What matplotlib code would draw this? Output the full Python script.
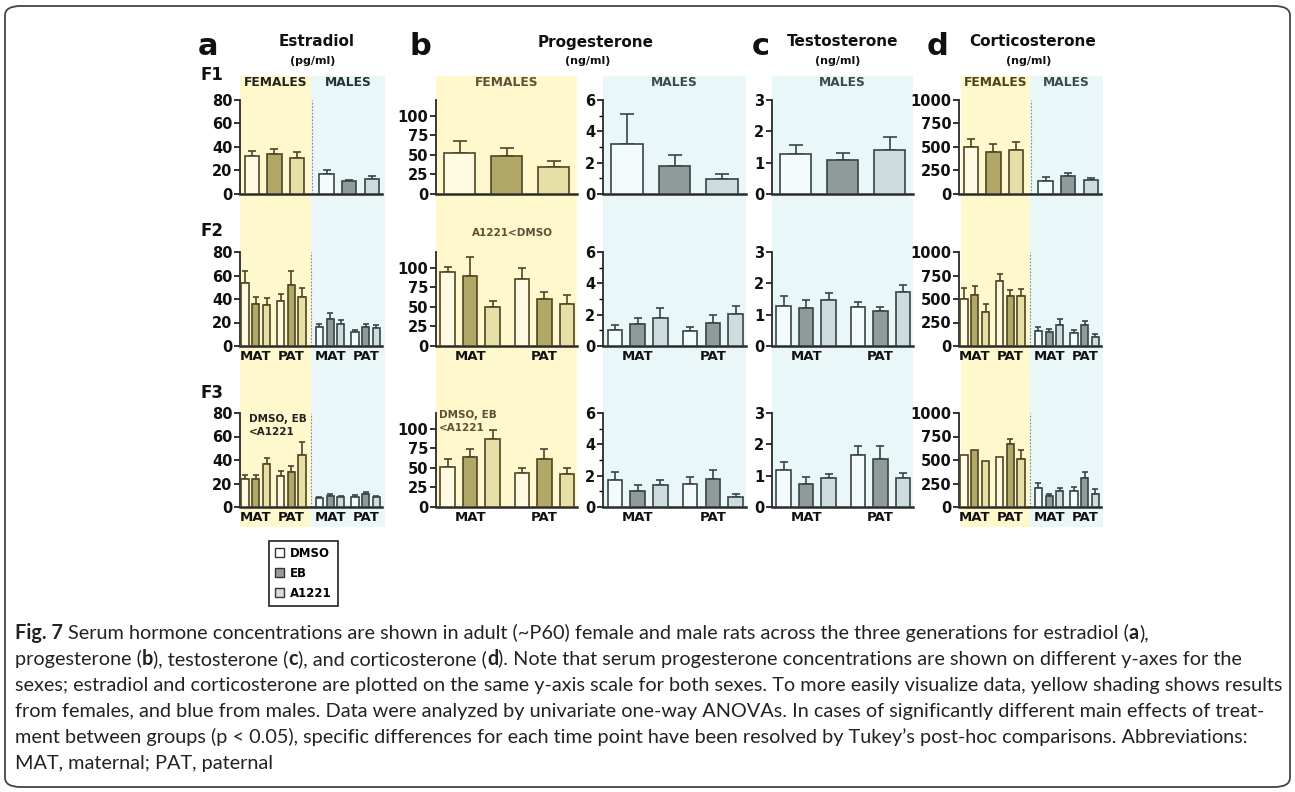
import matplotlib
matplotlib.use('Agg')
import matplotlib.pyplot as plt
from matplotlib.patches import Rectangle, FancyBboxPatch, Patch
import numpy as np

plt.rcParams['font.family'] = 'DejaVu Sans'
plt.rcParams['font.weight'] = 'bold'

# ---------------- data (mean, sem) ----------------
treatments = ['DMSO', 'EB', 'A1221']
groups = ['MAT', 'PAT']

# estradiol (pg/ml); F1: fem D,E,A + male D,E,A ; F2/F3: fem MAT, fem PAT, male MAT, male PAT
e2_f1_mean = [32, 34, 31, 17, 11, 13]
e2_f1_sem = [5, 4.3, 4.8, 3.7, 1.2, 2]
e2_f2_mean = [54, 36, 35, 38, 51.5, 41.5, 16, 23.4, 18.3, 12, 16, 15.4]
e2_f2_sem = [10, 5.4, 6, 6, 12.5, 7.5, 2.6, 4.6, 4, 1.4, 2.3, 2.3]
e2_f3_mean = [23.7, 24, 36.3, 26.6, 29.7, 44.3, 7.7, 9.7, 8.3, 8.6, 10.9, 8.3]
e2_f3_sem = [3.3, 3, 5.4, 3.7, 4.9, 10.7, 1.2, 1.7, 1.1, 1.7, 2.1, 0.8]

# progesterone (ng/ml), females
p4f_f1_mean = [52.6, 49, 35]
p4f_f1_sem = [15.4, 9.8, 7.5]
p4f_f2_mean = [94.2, 90, 49.3, 86, 59.6, 54]
p4f_f2_sem = [6.8, 24, 8.7, 14, 9.4, 11]
p4f_f3_mean = [51.5, 63.9, 87.2, 44, 60.8, 42.7]
p4f_f3_sem = [10.2, 9.7, 11, 5.8, 13.2, 6.6]

# progesterone (ng/ml), males
p4m_f1_mean = [3.19, 1.81, 0.98]
p4m_f1_sem = [1.89, 0.69, 0.28]
p4m_f2_mean = [1.04, 1.43, 1.77, 0.96, 1.45, 2.02]
p4m_f2_sem = [0.28, 0.36, 0.63, 0.23, 0.51, 0.55]
p4m_f3_mean = [1.74, 1.04, 1.38, 1.49, 1.77, 0.66]
p4m_f3_sem = [0.47, 0.34, 0.36, 0.45, 0.57, 0.15]

# testosterone (ng/ml), males
t_f1_mean = [1.27, 1.07, 1.41]
t_f1_sem = [0.29, 0.24, 0.42]
t_f2_mean = [1.29, 1.21, 1.47, 1.25, 1.13, 1.71]
t_f2_sem = [0.31, 0.25, 0.23, 0.14, 0.12, 0.25]
t_f3_mean = [1.19, 0.75, 0.92, 1.65, 1.54, 0.92]
t_f3_sem = [0.26, 0.21, 0.14, 0.31, 0.42, 0.15]

# corticosterone (ng/ml)
c_f1_mean = [502, 445, 466, 139, 196, 149]
c_f1_sem = [85, 85, 86, 39, 25, 25]
c_f2_mean = [504, 539, 358, 688, 532, 532, 163, 152, 227, 135, 223, 92]
c_f2_sem = [113, 99, 89, 78, 64, 74, 43, 29, 64, 35, 47, 32]
c_f3_mean = [557, 607, 486, 536, 671, 507, 204, 122, 171, 175, 311, 143]
c_f3_sem = [np.nan, np.nan, np.nan, np.nan, 50, 97, 53, 21, 29, 36, 64, 46]

# ---------------- style ----------------
fill = {'F': ['#fffbe3', '#b1a767', '#e6dfa6'],
        'M': ['#f3fbfc', '#8e9b99', '#cddcdf']}
edge = {'F': '#4d4526', 'M': '#384444'}
yellow = '#fff8cc'
blue = '#eaf7f9'
CF = 'DejaVu Sans'  # chart font

W, H = 1295, 792
fig = plt.figure(figsize=(W / 100, H / 100), dpi=100)

row_top = [100, 252, 413]
row_bot = [194, 346, 507]

pos3 = [0, 1, 2]
pos6 = [0, 1, 2, 3.3, 4.3, 5.3]
pos12 = [0, 1, 2, 3.33, 4.33, 5.33, 6.95, 7.95, 8.95, 10.28, 11.28, 12.28]
lims = {3: (-0.5, 2.5), 6: (-0.52, 5.75), 12: (-0.48, 12.8)}
widths = {3: 0.66, 6: 0.64, 12: 0.68}
caps = {3: 5, 6: 3, 12: 2}


def fx(x):
    return x / W


def fy(y):
    return 1 - y / H


def make_ax(x0, x1, r):
    ax = fig.add_axes([fx(x0), fy(row_bot[r]), (x1 - x0) / W, (row_bot[r] - row_top[r]) / H])
    ax.set_facecolor('none')
    for s in ['top', 'right']:
        ax.spines[s].set_visible(False)
    ax.spines['left'].set_color('#2a2a2a')
    ax.spines['left'].set_linewidth(1.3)
    ax.spines['bottom'].set_color('#2a2a2a')
    ax.spines['bottom'].set_linewidth(1.8)
    ax.tick_params(axis='x', length=0, labelsize=9.5, pad=3, colors='#111', labelfontfamily=CF)
    ax.tick_params(axis='y', length=4, width=1.2, labelsize=10.5, pad=1.5, colors='#111',
                   labelfontfamily=CF)
    ax.tick_params(axis='y', which='minor', length=3, width=1.0)
    return ax


def draw(ax, pos, means, sems, sexes, yticks, ylim, xlabels=None):
    n = len(pos)
    w = widths[n]
    for i, (p, m, s) in enumerate(zip(pos, means, sems)):
        sx = sexes[i]
        ax.bar(p, m, w, color=fill[sx][i % 3], edgecolor=edge[sx], linewidth=1.2, zorder=3)
        if not np.isnan(s):
            ax.errorbar(p, m, yerr=[[0], [s]], fmt='none', ecolor=edge[sx], elinewidth=1.2,
                        capsize=caps[n], capthick=1.2, zorder=2)
    ax.set_xlim(*lims[n])
    ax.set_ylim(*ylim)
    ax.set_yticks(yticks)
    if xlabels:
        ax.set_xticks([np.mean(pos[k:k + 3]) for k in range(0, n, 3)])
        ax.set_xticklabels(xlabels)
    else:
        ax.set_xticks([])


def divider(ax, pos, ylim):
    xd = (pos[2] + pos[3]) / 2 if len(pos) == 6 else (pos[5] + pos[6]) / 2
    ax.plot([xd, xd], [0, ylim[1]], ls=(0, (1.5, 1.5)), color='#888888', lw=0.8, zorder=1)


# ---------------- shading ----------------
shades = [(240, 311, 76, 527, yellow), (311, 385, 76, 527, blue),
          (436, 577, 76, 508, yellow), (603, 746, 76, 508, blue),
          (772, 913, 76, 508, blue),
          (961, 1030, 76, 527, yellow), (1030, 1103, 76, 527, blue)]
for x0, x1, y0, y1, c in shades:
    fig.add_artist(Rectangle((fx(x0), fy(y1)), (x1 - x0) / W, (y1 - y0) / H,
                             transform=fig.transFigure, facecolor=c, edgecolor='none', zorder=0))

sex6 = ['F'] * 3 + ['M'] * 3
sex12 = ['F'] * 6 + ['M'] * 6
lab12 = ['MAT', 'PAT', 'MAT', 'PAT']

# a: estradiol
e2_ticks, e2_lim = [0, 20, 40, 60, 80], (0, 80)
for r, (m, s) in enumerate([(e2_f1_mean, e2_f1_sem), (e2_f2_mean, e2_f2_sem), (e2_f3_mean, e2_f3_sem)]):
    ax = make_ax(240, 382, r)
    if r == 0:
        draw(ax, pos6, m, s, sex6, e2_ticks, e2_lim)
        divider(ax, pos6, e2_lim)
    else:
        draw(ax, pos12, m, s, sex12, e2_ticks, e2_lim, lab12)
        divider(ax, pos12, e2_lim)

# b: progesterone females / males
for r, (m, s) in enumerate([(p4f_f1_mean, p4f_f1_sem), (p4f_f2_mean, p4f_f2_sem), (p4f_f3_mean, p4f_f3_sem)]):
    ax = make_ax(436, 577, r)
    if r == 0:
        draw(ax, pos3, m, s, ['F'] * 3, [0, 25, 50, 75, 100], (0, 120))
    else:
        draw(ax, pos6, m, s, ['F'] * 6, [0, 25, 50, 75, 100], (0, 120), groups)

for r, (m, s) in enumerate([(p4m_f1_mean, p4m_f1_sem), (p4m_f2_mean, p4m_f2_sem), (p4m_f3_mean, p4m_f3_sem)]):
    ax = make_ax(603, 746, r)
    if r == 0:
        draw(ax, pos3, m, s, ['M'] * 3, [0, 2, 4, 6], (0, 6))
    else:
        draw(ax, pos6, m, s, ['M'] * 6, [0, 2, 4, 6], (0, 6), groups)
    ax.set_yticks([1, 3, 5], minor=True)

# c: testosterone
for r, (m, s) in enumerate([(t_f1_mean, t_f1_sem), (t_f2_mean, t_f2_sem), (t_f3_mean, t_f3_sem)]):
    ax = make_ax(772, 913, r)
    if r == 0:
        draw(ax, pos3, m, s, ['M'] * 3, [0, 1, 2, 3], (0, 3))
    else:
        draw(ax, pos6, m, s, ['M'] * 6, [0, 1, 2, 3], (0, 3), groups)

# d: corticosterone
c_ticks, c_lim = [0, 250, 500, 750, 1000], (0, 1000)
for r, (m, s) in enumerate([(c_f1_mean, c_f1_sem), (c_f2_mean, c_f2_sem), (c_f3_mean, c_f3_sem)]):
    ax = make_ax(959, 1101, r)
    if r == 0:
        draw(ax, pos6, m, s, sex6, c_ticks, c_lim)
        divider(ax, pos6, c_lim)
    else:
        draw(ax, pos12, m, s, sex12, c_ticks, c_lim, lab12)
        divider(ax, pos12, c_lim)

# ---------------- headings ----------------
for x, l in [(198, 'a'), (410, 'b'), (752, 'c'), (927, 'd')]:
    fig.text(fx(x), fy(55), l, fontsize=22, ha='left', va='baseline', color='#111', family=CF)
for x, x2, t, u in [(317, 313, 'Estradiol', '(pg/ml)'), (596, 588, 'Progesterone', '(ng/ml)'),
                    (843, 838, 'Testosterone', '(ng/ml)'), (1033, 1029, 'Corticosterone', '(ng/ml)')]:
    fig.text(fx(x), fy(42), t, fontsize=11, ha='center', va='center', color='#111', family=CF)
    fig.text(fx(x2), fy(61), u, fontsize=8, ha='center', va='center', color='#111', family=CF)
for y, t in [(75, 'F1'), (231, 'F2'), (393, 'F3')]:
    fig.text(fx(200), fy(y), t, fontsize=12, ha='left', va='center', color='#111', family=CF)

for x, t, c in [(275.5, 'FEMALES', '#222222'), (348, 'MALES', '#223333'),
                (506.5, 'FEMALES', '#5a5234'), (674.5, 'MALES', '#3d4a4a'),
                (842.5, 'MALES', '#3d4a4a'),
                (995.5, 'FEMALES', '#4a4420'), (1066.5, 'MALES', '#3d4a4a')]:
    fig.text(fx(x), fy(83), t, fontsize=8.8, ha='center', va='center', color=c, family=CF)

# post-hoc annotations
for x, y, t, c, ha in [(512, 233, 'A1221<DMSO', '#5a5234', 'center'),
                       (249, 419, 'DMSO, EB', '#222222', 'left'),
                       (249, 432, '<A1221', '#222222', 'left'),
                       (439, 415, 'DMSO, EB', '#5a5234', 'left'),
                       (439, 428, '<A1221', '#5a5234', 'left')]:
    fig.text(fx(x), fy(y), t, fontsize=7.5, ha=ha, va='center', color=c, family=CF)

# legend
handles = [Patch(facecolor='#ffffff', edgecolor='#333333', lw=1.0),
           Patch(facecolor='#9c9898', edgecolor='#333333', lw=1.0),
           Patch(facecolor='#dcdcdc', edgecolor='#333333', lw=1.0)]
leg = fig.legend(handles, treatments, loc='upper left', bbox_to_anchor=(fx(269), fy(541)),
                 borderaxespad=0, frameon=True, fancybox=False, edgecolor='#222222', framealpha=1,
                 handlelength=0.8, handleheight=0.8, handletextpad=0.5, borderpad=0.5,
                 labelspacing=0.6, prop={'weight': 'bold', 'size': 8.5, 'family': CF})
leg.get_frame().set_linewidth(1.2)

# draw chart part once before touching caption font
fig.canvas.draw()

# ---------------- caption ----------------
cap_lines = [
    [('Fig. 7', 'bold'), (' Serum hormone concentrations are shown in adult (~P60) female and male rats across the three generations for estradiol (', 'normal'), ('a', 'bold'), ('),', 'normal')],
    [('progesterone (', 'normal'), ('b', 'bold'), ('), testosterone (', 'normal'), ('c', 'bold'), ('), and corticosterone (', 'normal'), ('d', 'bold'), ('). Note that serum progesterone concentrations are shown on different y-axes for the', 'normal')],
    [('sexes; estradiol and corticosterone are plotted on the same y-axis scale for both sexes. To more easily visualize data, yellow shading shows results', 'normal')],
    [('from females, and blue from males. Data were analyzed by univariate one-way ANOVAs. In cases of significantly different main effects of treat-', 'normal')],
    [('ment between groups (p < 0.05), specific differences for each time point have been resolved by Tukey\u2019s post-hoc comparisons. Abbreviations:', 'normal')],
    [('MAT, maternal; PAT, paternal', 'normal')],
]
cap_family = 'Lato'
renderer = fig.canvas.get_renderer()


def text_w(s, size, weight):
    t = fig.text(0, 0, s, fontsize=size, fontweight=weight, family=cap_family)
    w = t.get_window_extent(renderer).width
    t.remove()
    return w


probe = 14
ref_w = text_w(cap_lines[2][0][0], probe, 'normal')
cap_size = probe * 1275 / ref_w
space_w = text_w('x x', cap_size, 'normal') - text_w('xx', cap_size, 'normal')

for k, line in enumerate(cap_lines):
    x = 15
    yb = 639 + 26 * k
    for s, wt in line:
        lead = len(s) - len(s.lstrip(' '))
        trail = len(s) - len(s.rstrip(' '))
        core = s.strip(' ')
        x += lead * space_w
        t = fig.text(fx(x), fy(yb), core, fontsize=cap_size, fontweight=wt, family=cap_family,
                     ha='left', va='baseline', color='#222222')
        x += t.get_window_extent(renderer).width + trail * space_w

# border
fig.add_artist(FancyBboxPatch((fx(5), fy(787)), 1285 / W, 781 / H,
                              boxstyle='round,pad=0,rounding_size=0.012',
                              transform=fig.transFigure, fill=False, edgecolor='#444444', lw=1.3))

fig.savefig('out.png', dpi=100)
